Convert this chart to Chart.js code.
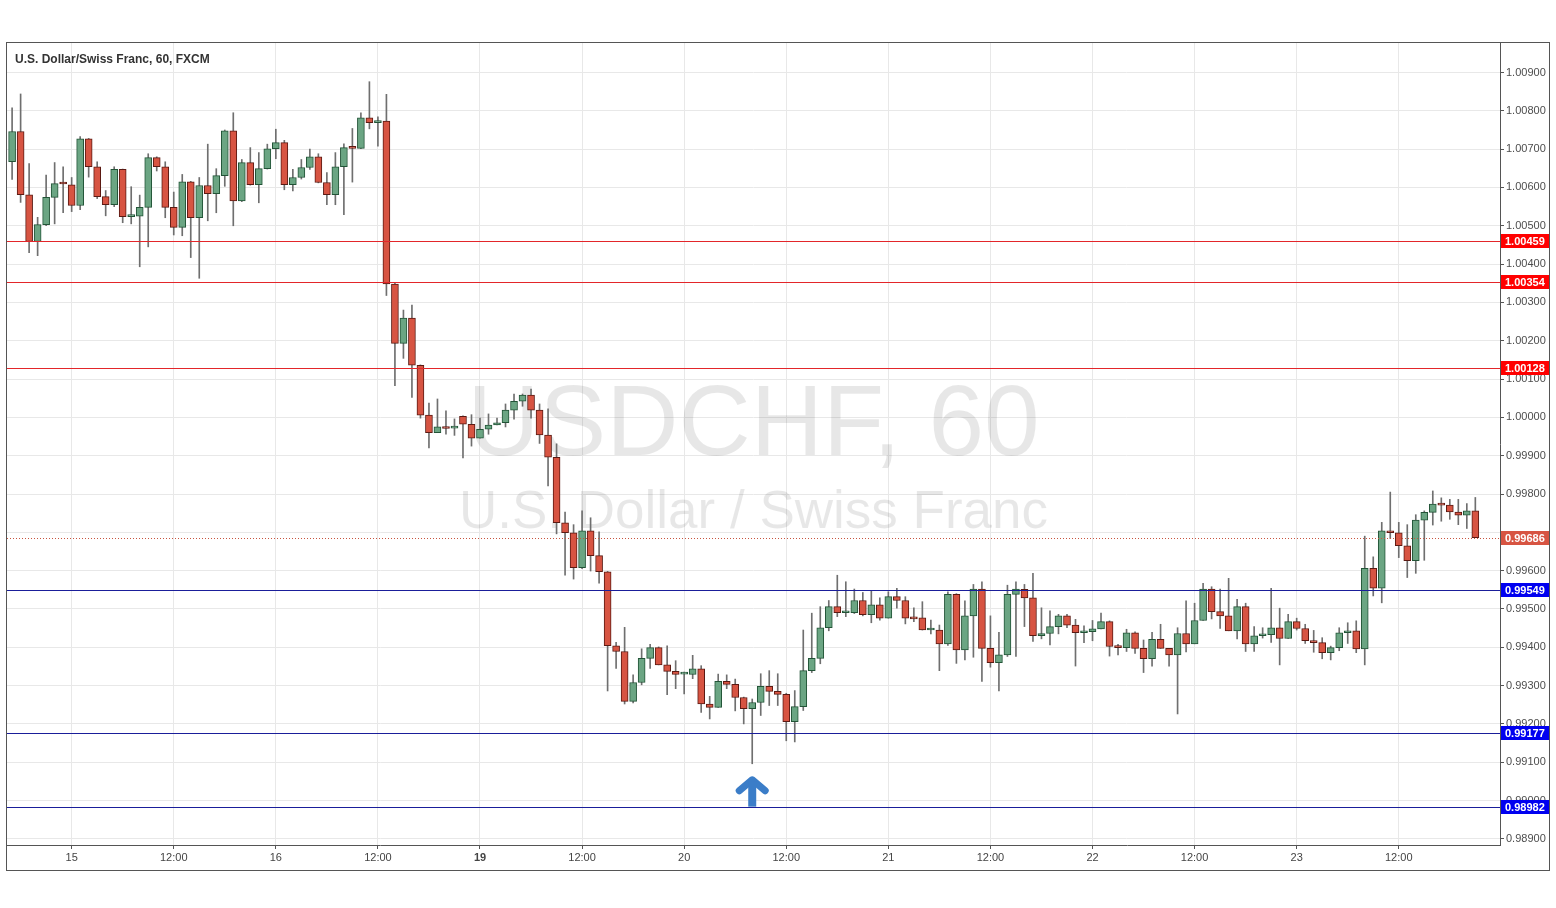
<!DOCTYPE html>
<html><head><meta charset="utf-8">
<script src="https://cdn.jsdelivr.net/npm/chart.js@4.4.0/dist/chart.umd.min.js"></script>
<style>html,body{margin:0;padding:0;background:#fff;overflow:hidden}canvas{display:block}</style>
</head><body>
<canvas id="c" width="1556" height="908" style="width:1556px;height:908px"></canvas>
<script>
const title = 'U.S. Dollar/Swiss Franc, 60, FXCM';
const watermark1 = 'USDCHF, 60';
const watermark2 = 'U.S. Dollar / Swiss Franc';
const days = ['14','15','16','19','20','21','22','23'];
const firstHour = 17;

const openP = [
1.00667,1.00746,1.00581,1.00459,1.00503,1.00574,1.00611,1.00607,1.00553,1.00727,
1.00654,1.00576,1.00555,1.00647,1.00524,1.00525,1.00548,1.00678,1.00654,1.00548,
1.00496,1.00615,1.00521,1.00605,1.00584,1.00631,1.00748,1.00565,1.00665,1.00607,
1.00649,1.00701,1.00717,1.00607,1.00626,1.00652,1.00680,1.00613,1.00581,1.00654,
1.00704,1.00702,1.00782,1.00769,1.00773,1.00348,1.00193,1.00259,1.00136,1.00006,
0.99960,0.99974,0.99972,1.00003,0.99982,0.99946,0.99969,0.99980,0.99986,1.00019,
1.00042,1.00058,1.00019,0.99954,0.99896,0.99725,0.99699,0.99608,0.99704,0.99639,
0.99597,0.99404,0.99389,0.99259,0.99308,0.99371,0.99399,0.99354,0.99337,0.99330,
0.99329,0.99344,0.99252,0.99243,0.99311,0.99303,0.99269,0.99240,0.99256,0.99298,
0.99285,0.99277,0.99206,0.99245,0.99339,0.99371,0.99451,0.99506,0.99490,0.99490,
0.99522,0.99485,0.99511,0.99476,0.99532,0.99522,0.99477,0.99477,0.99445,0.99445,
0.99409,0.99538,0.99393,0.99482,0.99552,0.99397,0.99360,0.99380,0.99538,0.99551,
0.99529,0.99430,0.99436,0.99454,0.99482,0.99458,0.99438,0.99441,0.99448,0.99467,
0.99402,0.99399,0.99438,0.99397,0.99370,0.99421,0.99397,0.99380,0.99436,0.99409,
0.99470,0.99552,0.99493,0.99482,0.99443,0.99506,0.99409,0.99430,0.99433,0.99451,
0.99423,0.99467,0.99449,0.99417,0.99412,0.99386,0.99399,0.99438,0.99443,0.99396,
0.99606,0.99554,0.99704,0.99699,0.99665,0.99626,0.99732,0.99752,0.99774,0.99771,
0.99753,0.99745,0.99756];

const highP = [
1.00808,1.00844,1.00662,1.00522,1.00632,1.00665,1.00654,1.00626,1.00733,1.00728,
1.00667,1.00592,1.00654,1.00648,1.00602,1.00580,1.00688,1.00680,1.00667,1.00588,
1.00634,1.00616,1.00626,1.00713,1.00649,1.00750,1.00795,1.00673,1.00704,1.00691,
1.00713,1.00752,1.00723,1.00647,1.00673,1.00700,1.00688,1.00639,1.00691,1.00714,
1.00754,1.00795,1.00876,1.00784,1.00843,1.00350,1.00280,1.00293,1.00137,1.00037,
1.00048,1.00017,0.99996,1.00004,1.00007,0.99998,1.00009,0.99998,1.00035,1.00061,
1.00061,1.00074,1.00035,1.00022,0.99931,0.99753,0.99720,0.99756,0.99738,0.99701,
0.99598,0.99413,0.99452,0.99328,0.99396,0.99408,0.99401,0.99404,0.99365,0.99335,
0.99379,0.99352,0.99272,0.99330,0.99328,0.99317,0.99270,0.99265,0.99331,0.99339,
0.99331,0.99280,0.99287,0.99445,0.99489,0.99506,0.99522,0.99588,0.99571,0.99552,
0.99543,0.99548,0.99529,0.99545,0.99554,0.99532,0.99503,0.99519,0.99471,0.99458,
0.99545,0.99540,0.99521,0.99564,0.99571,0.99482,0.99439,0.99562,0.99571,0.99564,
0.99593,0.99503,0.99495,0.99486,0.99486,0.99473,0.99456,0.99470,0.99489,0.99469,
0.99408,0.99447,0.99440,0.99419,0.99439,0.99460,0.99397,0.99451,0.99521,0.99515,
0.99567,0.99558,0.99552,0.99580,0.99525,0.99515,0.99454,0.99451,0.99554,0.99502,
0.99486,0.99476,0.99460,0.99444,0.99425,0.99403,0.99451,0.99464,0.99469,0.99690,
0.99636,0.99726,0.99805,0.99726,0.99720,0.99746,0.99756,0.99808,0.99790,0.99786,
0.99786,0.99775,0.99791];

const lowP = [
1.00621,1.00561,1.00430,1.00422,1.00500,1.00505,1.00534,1.00537,1.00542,1.00627,
1.00571,1.00526,1.00550,1.00508,1.00505,1.00393,1.00445,1.00643,1.00521,1.00476,
1.00474,1.00417,1.00363,1.00513,1.00534,1.00603,1.00500,1.00563,1.00606,1.00560,
1.00648,1.00675,1.00594,1.00591,1.00622,1.00647,1.00612,1.00555,1.00555,1.00529,
1.00614,1.00701,1.00753,1.00708,1.00318,1.00083,1.00154,1.00052,0.99998,0.99920,
0.99960,0.99956,0.99953,0.99894,0.99925,0.99946,0.99956,0.99980,0.99975,0.99995,
1.00029,0.99998,0.99932,0.99821,0.99696,0.99588,0.99578,0.99605,0.99599,0.99567,
0.99286,0.99345,0.99252,0.99255,0.99302,0.99345,0.99354,0.99276,0.99292,0.99278,
0.99318,0.99230,0.99213,0.99243,0.99292,0.99234,0.99200,0.99096,0.99222,0.99248,
0.99248,0.99156,0.99153,0.99235,0.99334,0.99357,0.99443,0.99480,0.99480,0.99488,
0.99482,0.99464,0.99471,0.99476,0.99502,0.99461,0.99467,0.99445,0.99435,0.99339,
0.99405,0.99358,0.99367,0.99374,0.99311,0.99348,0.99286,0.99376,0.99376,0.99454,
0.99415,0.99422,0.99406,0.99435,0.99451,0.99351,0.99412,0.99417,0.99448,0.99377,
0.99380,0.99389,0.99384,0.99334,0.99351,0.99397,0.99351,0.99226,0.99388,0.99409,
0.99470,0.99474,0.99449,0.99443,0.99422,0.99389,0.99389,0.99424,0.99413,0.99354,
0.99423,0.99445,0.99410,0.99387,0.99370,0.99367,0.99391,0.99410,0.99386,0.99354,
0.99534,0.99516,0.99684,0.99634,0.99582,0.99593,0.99627,0.99719,0.99729,0.99734,
0.99720,0.99710,0.99686];

const closeP = [
1.00746,1.00581,1.00459,1.00503,1.00574,1.00610,1.00609,1.00553,1.00727,1.00654,
1.00576,1.00555,1.00647,1.00524,1.00525,1.00548,1.00678,1.00654,1.00548,1.00496,
1.00615,1.00521,1.00605,1.00584,1.00631,1.00748,1.00565,1.00665,1.00607,1.00649,
1.00701,1.00717,1.00607,1.00626,1.00652,1.00680,1.00613,1.00581,1.00654,1.00704,
1.00702,1.00782,1.00769,1.00773,1.00348,1.00193,1.00259,1.00136,1.00006,0.99960,
0.99975,0.99971,0.99972,0.99982,0.99946,0.99969,0.99980,0.99986,1.00019,1.00042,
1.00058,1.00019,0.99954,0.99896,0.99725,0.99699,0.99608,0.99704,0.99639,0.99597,
0.99404,0.99389,0.99259,0.99308,0.99371,0.99399,0.99354,0.99337,0.99329,0.99330,
0.99344,0.99252,0.99243,0.99311,0.99303,0.99269,0.99240,0.99256,0.99298,0.99285,
0.99277,0.99206,0.99245,0.99339,0.99371,0.99451,0.99506,0.99490,0.99490,0.99522,
0.99485,0.99511,0.99476,0.99532,0.99522,0.99476,0.99474,0.99445,0.99445,0.99409,
0.99538,0.99393,0.99482,0.99552,0.99397,0.99360,0.99380,0.99538,0.99552,0.99529,
0.99430,0.99436,0.99454,0.99482,0.99458,0.99438,0.99441,0.99448,0.99467,0.99402,
0.99399,0.99438,0.99397,0.99370,0.99421,0.99397,0.99380,0.99436,0.99409,0.99470,
0.99552,0.99493,0.99482,0.99443,0.99506,0.99409,0.99430,0.99433,0.99451,0.99423,
0.99467,0.99449,0.99417,0.99412,0.99386,0.99399,0.99438,0.99443,0.99396,0.99606,
0.99554,0.99704,0.99699,0.99665,0.99626,0.99732,0.99752,0.99774,0.99771,0.99753,
0.99745,0.99756,0.99686];

const yTicks = [0.989,0.990,0.991,0.992,0.993,0.994,0.995,0.996,0.997,0.998,0.999,
  1.000,1.001,1.002,1.003,1.004,1.005,1.006,1.007,1.008,1.009];
const redLevels = [1.00459, 1.00354, 1.00128];
const blueLevels = [0.99549, 0.99177, 0.98982];
const lastPrice = 0.99686;
const arrowCandle = 87;
const arrowTop = 0.99062;
const arrowBottom = 0.98984;

// hour / day label for each candle
const hours = [], dayOf = [];
let dIdx = 0;
for (let i = 0; i < openP.length; i++) {
  const h = (firstHour + i) % 24;
  if (i > 0 && h === 0) dIdx++;
  hours.push(h); dayOf.push(days[dIdx]);
}
function xLabel(i) {
  i = Math.round(i);
  if (hours[i] === 0) return dayOf[i];
  if (hours[i] === 12) return '12:00';
  return '';
}

const UP = '#6ba583', DOWN = '#d75442', UPB = '#225437', DOWNB = '#5b1a13';
const FONT = '"Liberation Sans", Arial, sans-serif';

const bodyData = openP.map((o, i) => ({x: i, y: [o, closeP[i]]}));
const wickData = lowP.map((l, i) => ({x: i, y: [l, highP[i]]}));

const decor = {
  id: 'decor',
  beforeDatasetsDraw(chart) {
    const {ctx, chartArea: a} = chart;
    const cx = (a.left + a.right) / 2;
    ctx.save();
    ctx.fillStyle = 'rgba(0,0,0,0.095)';
    ctx.textAlign = 'center';
    ctx.textBaseline = 'alphabetic';
    ctx.font = '100px ' + FONT;
    ctx.fillText(watermark1, cx, a.top + 412);
    ctx.font = '53px ' + FONT;
    ctx.fillText(watermark2, cx, a.top + 485);
    ctx.restore();
  },
  afterDatasetsDraw(chart) {
    const {ctx, chartArea: a, scales: {x, y}} = chart;
    ctx.save();
    const hline = (v, color) => {
      const py = Math.round(y.getPixelForValue(v));
      ctx.fillStyle = color;
      ctx.fillRect(a.left, py, a.right - a.left, 1);
    };
    redLevels.forEach(v => hline(v, '#e3262a'));
    blueLevels.forEach(v => hline(v, '#1a1e9a'));
    // dotted last-price line
    const lp = Math.round(y.getPixelForValue(lastPrice));
    ctx.fillStyle = '#c9553f';
    for (let px = Math.ceil(a.left); px < a.right; px += 3) ctx.fillRect(px, lp, 1, 1);
    // arrow
    const ax = x.getPixelForValue(arrowCandle);
    const yt = y.getPixelForValue(arrowTop);
    const yb = y.getPixelForValue(arrowBottom);
    ctx.strokeStyle = '#3b7dc8';
    ctx.lineCap = 'round'; ctx.lineJoin = 'round';
    ctx.lineWidth = 7;
    ctx.beginPath();
    ctx.moveTo(ax - 13, yt + 14); ctx.lineTo(ax, yt + 3); ctx.lineTo(ax + 13, yt + 14);
    ctx.stroke();
    ctx.lineWidth = 8; ctx.lineCap = 'butt';
    ctx.beginPath(); ctx.moveTo(ax, yt + 5); ctx.lineTo(ax, yb); ctx.stroke();
    ctx.restore();
  },
  afterDraw(chart) {
    const {ctx, chartArea: a, scales: {y}} = chart;
    ctx.save();
    const tag = (v, bg) => {
      const py = Math.round(y.getPixelForValue(v));
      ctx.fillStyle = bg;
      ctx.fillRect(a.right + 1, py - 7, 48, 14);
      ctx.fillStyle = '#fff';
      ctx.font = 'bold 11px ' + FONT;
      ctx.textAlign = 'left'; ctx.textBaseline = 'middle';
      ctx.fillText(v.toFixed(5), a.right + 5, py + 0.5);
    };
    redLevels.forEach(v => tag(v, '#ff0000'));
    blueLevels.forEach(v => tag(v, '#0000f0'));
    tag(lastPrice, '#d75442');
    // frame
    ctx.strokeStyle = '#555'; ctx.lineWidth = 1;
    ctx.strokeRect(a.left - 0.5, a.top - 0.5, a.right + 50 - a.left, a.bottom + 26 - a.top);
    // title
    ctx.fillStyle = '#333';
    ctx.font = 'bold 12px ' + FONT;
    ctx.textAlign = 'left'; ctx.textBaseline = 'middle';
    ctx.fillText(title, a.left + 8, a.top + 17);
    ctx.restore();
  }
};

new Chart(document.getElementById('c'), {
  type: 'bar',
  data: {
    datasets: [
      {
        label: 'body', data: bodyData, order: 0, grouped: false,
        barThickness: 7, minBarLength: 2, borderWidth: 1, borderSkipped: false,
        backgroundColor: c => closeP[c.dataIndex] >= openP[c.dataIndex] ? UP : DOWN,
        borderColor: c => closeP[c.dataIndex] >= openP[c.dataIndex] ? UPB : DOWNB
      },
      {
        label: 'wick', data: wickData, order: 1, grouped: false,
        barThickness: 1, borderWidth: 0, backgroundColor: '#6f6f6f'
      }
    ]
  },
  options: {
    responsive: false, animation: false, devicePixelRatio: 1,
    layout: {padding: {left: 7, top: 43, right: 6, bottom: 37}},
    plugins: {legend: {display: false}, tooltip: {enabled: false}},
    scales: {
      x: {
        type: 'linear', min: -0.6, max: 174.9, offset: false,
        afterFit: s => { s.height = 26; },
        afterBuildTicks: s => {
          const t = [];
          hours.forEach((h, i) => { if (h === 0 || h === 12) t.push({value: i}); });
          s.ticks = t;
        },
        grid: {offset: false, color: '#e8e8e8', tickColor: '#555', tickLength: 4, lineWidth: 1},
        border: {display: true, color: '#555'},
        ticks: {
          autoSkip: false, maxRotation: 0, padding: 2, color: '#444',
          callback: v => xLabel(v),
          font: c => ({family: FONT, size: 11, weight: (c.tick && c.tick.label === '19') ? 'bold' : 'normal'})
        }
      },
      y: {
        type: 'linear', position: 'right', min: 0.98884, max: 1.00977,
        afterFit: s => { s.width = 50; },
        afterBuildTicks: s => { s.ticks = yTicks.map(v => ({value: v})); },
        grid: {color: '#e8e8e8', tickColor: '#555', tickLength: 4, lineWidth: 1},
        border: {display: true, color: '#555'},
        ticks: {
          padding: 2, color: '#4d4d4d', font: {family: FONT, size: 11},
          callback: v => Math.abs(v - lastPrice) < 0.00025 ? '' : Number(v).toFixed(5)
        }
      }
    }
  },
  plugins: [decor]
});
</script>
</body></html>
